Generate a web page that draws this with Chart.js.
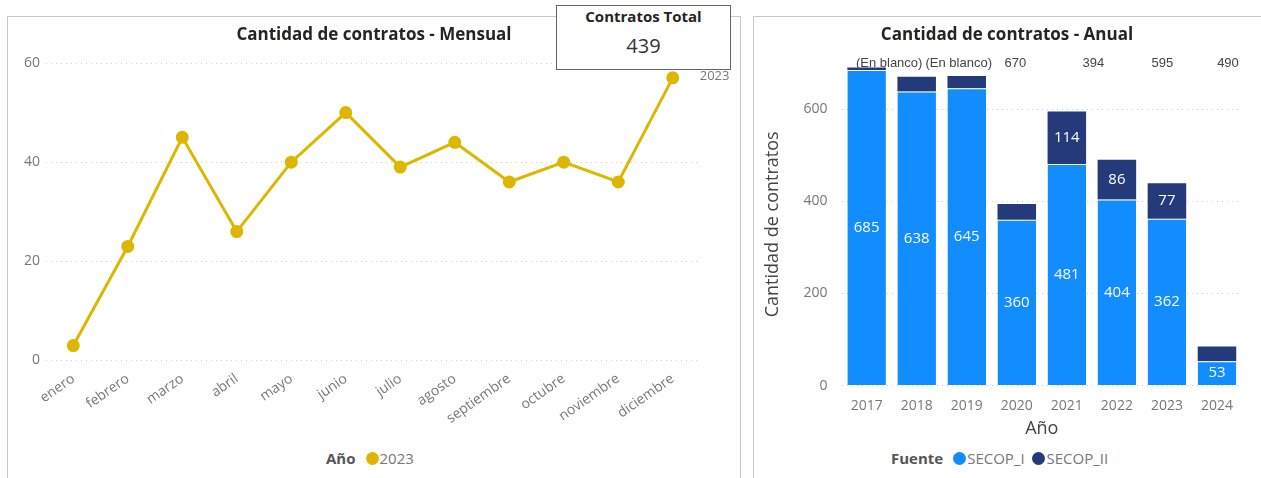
<!DOCTYPE html>
<html>
<head>
<meta charset="utf-8">
<script src="https://cdn.jsdelivr.net/npm/chart.js@4.4.1/dist/chart.umd.min.js"></script>
<style>
  body { margin: 0; background: #fff; font-family: "Segoe UI", "Open Sans", sans-serif; }
  .panel { position: absolute; top: 16px; height: 470px; border: 1px solid #c8c8c8; box-sizing: border-box; background: #fff; }
  .title { position: absolute; top: 5px; left: 0; right: 0; text-align: center; font-weight: bold; font-size: 17px; color: #252423; }
  .legend { position: absolute; top: 431px; font-size: 15px; color: #777; white-space: nowrap; }
  .legend b { color: #555; margin-right: 10px; }
  .dot { display: inline-block; width: 13px; height: 13px; border-radius: 50%; vertical-align: -1px; margin-right: 1px; }
  .card { position: absolute; left: 556px; top: 5px; width: 175px; height: 65px; border: 1px solid #666; background: #fff; box-sizing: border-box; text-align: center; }
  canvas { position: absolute; left: 0; top: 0; }
</style>
</head>
<body>
<div class="panel" style="left:7px;width:734px;">
  <canvas id="lineChart" width="732" height="426"></canvas>
  <div class="title">Cantidad de contratos - Mensual</div>
  <div class="legend" style="left:318px;"><b>Año</b><span class="dot" style="background:#DDB600"></span>2023</div>
</div>
<div class="panel" style="left:753px;width:520px;">
  <canvas id="barChart" width="510" height="423"></canvas>
  <div class="title" style="right:12px;">Cantidad de contratos - Anual</div>
  <div class="legend" style="left:137px;"><b>Fuente</b><span class="dot" style="background:#118DFF"></span>SECOP_I&nbsp;&nbsp;<span class="dot" style="background:#243A7A"></span>SECOP_II</div>
</div>
<div class="card">
  <div style="font-weight:bold;font-size:15px;color:#252423;margin-top:0px;">Contratos Total</div>
  <div style="font-size:20px;color:#333;margin-top:6px;">439</div>
</div>
<script>
var meses = ['enero', 'febrero', 'marzo', 'abril', 'mayo', 'junio', 'julio', 'agosto', 'septiembre', 'octubre', 'noviembre', 'diciembre'];
var contratos2023 = [3, 23, 45, 26, 40, 50, 39, 44, 36, 40, 36, 57];

var anios = ['2017', '2018', '2019', '2020', '2021', '2022', '2023', '2024'];
var secopI = [685, 638, 645, 360, 481, 404, 362, 53];
var secopII = [5, 32, 27, 34, 114, 86, 77, 32];
var topLabels = ['(En blanco)', '(En blanco)', '670', '394', '595', '490'];
var topLabelSlots = [0.45, 1.84, 2.97, 4.53, 5.91, 7.22];

var gridDots = { color: '#cfcfcf', lineWidth: 1, drawTicks: false };
var tickFont = { family: '"Segoe UI", "Open Sans", sans-serif', size: 14 };

document.addEventListener("DOMContentLoaded", function() {

    // label "2023" at the end of the line
    var endLabel = {
        id: 'endLabel',
        afterDatasetsDraw: function(chart) {
            var pts = chart.getDatasetMeta(0).data;
            var last = pts[pts.length - 1];
            var ctx = chart.ctx;
            ctx.save();
            ctx.font = '13px "Segoe UI", "Open Sans", sans-serif';
            ctx.fillStyle = '#777';
            ctx.textBaseline = 'middle';
            ctx.fillText('2023', last.x + 27, last.y - 2);
            ctx.restore();
        }
    };

    var ctxLine = document.getElementById('lineChart').getContext('2d');
    new Chart(ctxLine, {
        type: 'line',
        data: {
            labels: meses,
            datasets: [{
                label: '2023',
                data: contratos2023,
                borderColor: '#DDB600',
                backgroundColor: '#DDB600',
                borderWidth: 3,
                pointRadius: 5,
                pointHoverRadius: 5,
                tension: 0
            }]
        },
        options: {
            responsive: false,
            animation: false,
            layout: { padding: { top: 46, left: 10, right: 40, bottom: 14 } },
            plugins: { legend: { display: false }, tooltip: { enabled: false } },
            scales: {
                x: {
                    offset: true,
                    grid: { display: false },
                    border: { display: false },
                    ticks: { color: '#777', font: tickFont, minRotation: 35, maxRotation: 35, padding: 2 }
                },
                y: {
                    min: 0, max: 60,
                    grid: gridDots,
                    border: { display: false, dash: [1, 4] },
                    ticks: { stepSize: 20, color: '#777', font: tickFont, padding: 6 }
                }
            }
        },
        plugins: [endLabel]
    });

    // white value labels inside the bars + top row of labels
    var barLabels = {
        id: 'barLabels',
        afterDatasetsDraw: function(chart) {
            var ctx = chart.ctx;
            ctx.save();
            ctx.font = '15px "Segoe UI", "Open Sans", sans-serif';
            ctx.fillStyle = '#fff';
            ctx.textAlign = 'center';
            ctx.textBaseline = 'middle';
            chart.data.datasets.forEach(function(ds, di) {
                chart.getDatasetMeta(di).data.forEach(function(bar, i) {
                    var v = ds.data[i];
                    if (di === 1 && v < 50) return;
                    var mid = (bar.y + bar.base) / 2;
                    ctx.fillText(v, bar.x, mid);
                });
            });
            var xs = chart.scales.x;
            var step = xs.getPixelForValue(1) - xs.getPixelForValue(0);
            ctx.font = '13px "Liberation Sans", Arial, sans-serif';
            ctx.fillStyle = '#444';
            topLabels.forEach(function(t, i) {
                ctx.fillText(t, xs.getPixelForValue(0) + topLabelSlots[i] * step, chart.chartArea.top);
            });
            ctx.restore();
        }
    };

    var ctxBar = document.getElementById('barChart').getContext('2d');
    new Chart(ctxBar, {
        type: 'bar',
        data: {
            labels: anios,
            datasets: [
                { label: 'SECOP_I', data: secopI, backgroundColor: '#118DFF', borderColor: '#ffffff', borderWidth: { top: 1 }, barPercentage: 0.77, categoryPercentage: 1 },
                { label: 'SECOP_II', data: secopII, backgroundColor: '#243A7A', borderColor: '#ffffff', borderWidth: 0, barPercentage: 0.77, categoryPercentage: 1 }
            ]
        },
        options: {
            responsive: false,
            animation: false,
            layout: { padding: { top: 46, left: 4, right: 22, bottom: 0 } },
            plugins: { legend: { display: false }, tooltip: { enabled: false } },
            scales: {
                x: {
                    stacked: true,
                    grid: { display: false },
                    border: { display: false },
                    ticks: { color: '#777', font: tickFont, padding: 4 },
                    title: { display: true, text: 'Año', color: '#444', font: { family: tickFont.family, size: 18 }, padding: { top: 0, bottom: 0 } }
                },
                y: {
                    stacked: true,
                    min: 0, max: 700,
                    afterBuildTicks: function(s) { s.ticks = s.ticks.filter(function(t) { return t.value % 200 === 0; }); },
                    grid: gridDots,
                    border: { display: false, dash: [1, 4] },
                    ticks: { stepSize: 200, color: '#777', font: tickFont, padding: 14 },
                    title: { display: true, text: 'Cantidad de contratos', color: '#444', font: { family: tickFont.family, size: 18 }, padding: { bottom: 6 } }
                }
            }
        },
        plugins: [barLabels]
    });
});
</script>
</body>
</html>
